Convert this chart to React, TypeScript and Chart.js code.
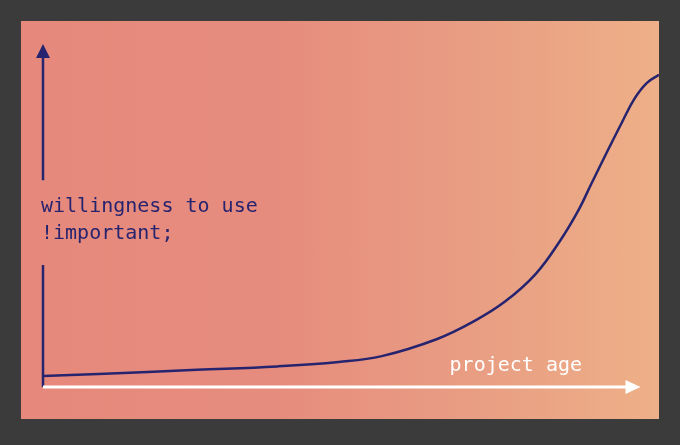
import { useEffect, useRef } from 'react'
import { Chart, registerables } from 'chart.js'

Chart.register(...registerables)

// project age (0-100) vs willingness to use !important (0-100)
const projectAge = [0, 9, 25, 38, 48, 55, 64, 70, 75, 80, 84, 87, 89, 92, 94, 96, 98, 100]
const willingness = [3.2, 3.8, 5.0, 6.0, 7.3, 9.0, 14.0, 19.2, 24.9, 33.0, 42.8, 51.8, 59.2, 70.1, 77.2, 84.0, 88.6, 91.0]

const yLabelLines = ['willingness to use', '!important;']
const xLabel = 'project age'

const NAVY = '#27246f'
const FONT = "20px 'DejaVu Sans Mono', monospace"

/** Hand-drawn looking axes: navy y arrow with a gap for the label, white x arrow. */
const sketchAxes = {
  id: 'sketchAxes',
  afterDatasetsDraw(chart: Chart) {
    const { ctx } = chart
    const x = chart.scales.x
    const y = chart.scales.y
    const x0 = x.getPixelForValue(0)
    const y0 = y.getPixelForValue(0)
    const yTop = y.getPixelForValue(100)
    const xEnd = x.getPixelForValue(97)

    ctx.save()

    // y axis, split around the label
    ctx.strokeStyle = NAVY
    ctx.fillStyle = NAVY
    ctx.lineWidth = 2.5
    ctx.beginPath()
    ctx.moveTo(x0, yTop + 12)
    ctx.lineTo(x0, y.getPixelForValue(60.3))
    ctx.moveTo(x0, y.getPixelForValue(35.6))
    ctx.lineTo(x0, y0)
    ctx.stroke()
    ctx.beginPath()
    ctx.moveTo(x0, yTop)
    ctx.lineTo(x0 - 7, yTop + 14)
    ctx.lineTo(x0 + 7, yTop + 14)
    ctx.closePath()
    ctx.fill()

    ctx.font = FONT
    ctx.textAlign = 'left'
    ctx.textBaseline = 'middle'
    ctx.fillText(yLabelLines[0], x0 - 2, y.getPixelForValue(52.5))
    ctx.fillText(yLabelLines[1], x0 - 2, y.getPixelForValue(44.6))

    // x axis
    ctx.strokeStyle = '#ffffff'
    ctx.fillStyle = '#ffffff'
    ctx.lineWidth = 3
    ctx.beginPath()
    ctx.moveTo(x0, y0)
    ctx.lineTo(xEnd - 12, y0)
    ctx.stroke()
    ctx.beginPath()
    ctx.moveTo(xEnd, y0)
    ctx.lineTo(xEnd - 15, y0 - 7)
    ctx.lineTo(xEnd - 15, y0 + 7)
    ctx.closePath()
    ctx.fill()

    ctx.textAlign = 'right'
    ctx.fillText(xLabel, x.getPixelForValue(87.5), y.getPixelForValue(6.1))

    ctx.restore()
  },
}

function SketchChart() {
  const canvasRef = useRef<HTMLCanvasElement>(null)
  const chartRef = useRef<Chart | null>(null)

  useEffect(() => {
    if (!canvasRef.current) return
    const ctx = canvasRef.current.getContext('2d')
    if (!ctx) return

    chartRef.current = new Chart(ctx, {
      type: 'line',
      data: {
        datasets: [
          {
            data: projectAge.map((a, i) => ({ x: a, y: willingness[i] })),
            borderColor: NAVY,
            borderWidth: 2.5,
            tension: 0.4,
            pointRadius: 0,
            fill: false,
          },
        ],
      },
      options: {
        responsive: true,
        maintainAspectRatio: false,
        animation: false,
        layout: { padding: { left: 22, top: 23, right: 0, bottom: 32 } },
        plugins: {
          legend: { display: false },
          tooltip: { enabled: false },
        },
        scales: {
          x: { type: 'linear', min: 0, max: 100, display: false },
          y: { min: 0, max: 100, display: false },
        },
      },
      plugins: [sketchAxes],
    })

    return () => {
      if (chartRef.current) {
        chartRef.current.destroy()
        chartRef.current = null
      }
    }
  }, [])

  return (
    <div
      style={{
        position: 'absolute',
        left: 21,
        top: 21,
        width: 638,
        height: 398,
        background: 'linear-gradient(90deg, #e6897c 0%, #e68c7e 40%, #e9a083 75%, #eeb088 100%)',
      }}
    >
      <canvas ref={canvasRef} />
    </div>
  )
}

export default function App() {
  return (
    <div style={{ position: 'fixed', inset: 0, background: '#3b3b3b' }}>
      <SketchChart />
    </div>
  )
}
